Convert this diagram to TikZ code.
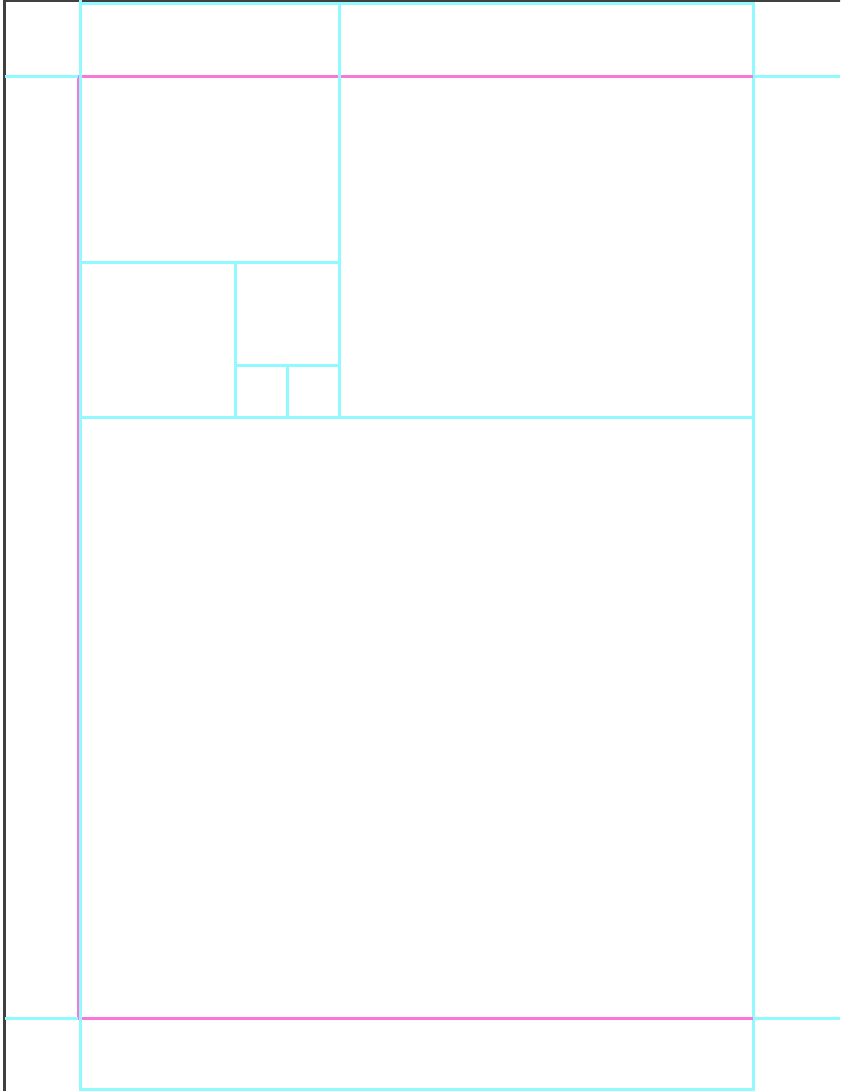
\documentclass[tikz,border=0pt]{standalone}
\definecolor{cy}{RGB}{144,250,255}
\definecolor{mg}{RGB}{250,118,215}
\definecolor{dk}{RGB}{64,64,64}
\tikzset{
  frame/.style={draw=dk, line width=1.3pt},
  textblock/.style={draw=mg, line width=1.2pt},
  guide/.style={draw=cy, line width=1.5pt}
}
\begin{document}
\begin{tikzpicture}[x=0.5pt,y=-0.5pt]
\useasboundingbox (0,0) rectangle (840,1091);
\begin{scope}
\clip (0,0) rectangle (840,1091);
% outer dark frame
\draw[frame] (4.5,1) rectangle (900,1150);
% text block
\draw[textblock] (78.5,76.5) rectangle (753.3,1018.5);
% full-width guides
\draw[guide] (4.5,76.5) -- (78,76.5);
\draw[guide] (754,76.5) -- (840,76.5);
\draw[guide] (4.5,1018.5) -- (78,1018.5);
\draw[guide] (754,1018.5) -- (840,1018.5);
% page rectangle
\draw[guide] (80.5,0) -- (80.5,1089.5) -- (753.7,1089.5) -- (753.7,3.8) -- (80.5,3.8);
% subdivisions
\draw[guide] (339.3,3.8) -- (339.3,417.7);
\draw[guide] (80.5,417.7) -- (753.7,417.7);
\draw[guide] (80.5,262.3) -- (339.3,262.3);
\draw[guide] (235.7,262.3) -- (235.7,417.7);
\draw[guide] (235.7,365.7) -- (339.3,365.7);
\draw[guide] (287.7,365.7) -- (287.7,417.7);
% magenta text block edges on top of cyan horizontals
\draw[textblock] (82,76.5) -- (338,76.5);
\draw[textblock] (340.8,76.5) -- (752.5,76.5);
\draw[textblock] (82,1018.5) -- (752.5,1018.5);
\end{scope}
\end{tikzpicture}
\end{document}
